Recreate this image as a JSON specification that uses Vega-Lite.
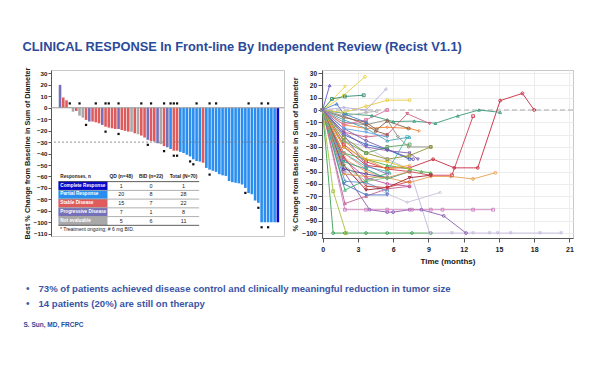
{
"$schema": "https://vega.github.io/schema/vega-lite/v6.json",
"padding": {"left": 22, "top": 40, "right": 5, "bottom": 5},
"background": "white",
"title": {"text": "CLINICAL RESPONSE In Front-line By Independent Review (Recist V1.1)", "anchor": "start", "frame": "bounds", "fontSize": 12.8, "fontWeight": "bold", "color": "#2c4a9a", "offset": 13, "font": "Liberation Sans"},
"config": {
  "font": "Liberation Sans",
  "view": {"stroke": "#c8c8c8"},
  "axis": {"labelFontWeight": "bold", "labelColor": "#1a1a1a", "titleColor": "#1a1a1a", "titleFontWeight": "bold", "domainColor": "#555", "tickColor": "#555", "labelFont": "Liberation Sans", "titleFont": "Liberation Sans", "labelOverlap": false, "tickCount": 40, "format": "d"},
  "text": {"font": "Liberation Sans"}
},
"resolve": {"scale": {"color": "independent", "shape": "independent", "x": "independent", "y": "independent"}},
"spacing": 15,
"vconcat": [
{
 "spacing": 6,
 "resolve": {"scale": {"color": "independent", "shape": "independent"}},
 "hconcat": [
 {
  "width": 233, "height": 166,
  "resolve": {"scale": {"y": "independent"}},
  "layer": [
   {
    "data": {"values": [
{"i":0,"v":20,"r":"PD","t":0,"s":0},
{"i":1,"v":9,"r":"SD","t":0,"s":0},
{"i":2,"v":6.5,"r":"SD","t":0,"s":0},
{"i":3,"v":0.5,"r":"SD","t":1,"s":0},
{"i":4,"v":-3.4,"r":"NE","t":0,"s":0},
{"i":5,"v":-2.8,"r":"SD","t":0,"s":0},
{"i":6,"v":-6.9,"r":"NE","t":1,"s":0},
{"i":7,"v":-8.6,"r":"NE","t":0,"s":0},
{"i":8,"v":-10.6,"r":"SD","t":0,"s":1},
{"i":9,"v":-12,"r":"PD","t":0,"s":0},
{"i":10,"v":-12,"r":"SD","t":0,"s":0},
{"i":11,"v":-12.7,"r":"SD","t":1,"s":0},
{"i":12,"v":-13.6,"r":"SD","t":0,"s":0},
{"i":13,"v":-15,"r":"PD","t":0,"s":0},
{"i":14,"v":-16.5,"r":"SD","t":1,"s":1},
{"i":15,"v":-17.3,"r":"SD","t":1,"s":0},
{"i":16,"v":-17.9,"r":"SD","t":0,"s":0},
{"i":17,"v":-18.5,"r":"SD","t":0,"s":0},
{"i":18,"v":-18.5,"r":"PD","t":1,"s":1},
{"i":19,"v":-19.4,"r":"SD","t":0,"s":0},
{"i":20,"v":-20.2,"r":"SD","t":0,"s":0},
{"i":21,"v":-20.8,"r":"SD","t":0,"s":0},
{"i":22,"v":-21,"r":"NE","t":0,"s":0},
{"i":23,"v":-22.3,"r":"SD","t":0,"s":0},
{"i":24,"v":-23.1,"r":"NE","t":0,"s":0},
{"i":25,"v":-24.3,"r":"SD","t":1,"s":0},
{"i":26,"v":-26,"r":"SD","t":0,"s":0},
{"i":27,"v":-28,"r":"PD","t":0,"s":1},
{"i":28,"v":-29,"r":"SD","t":1,"s":0},
{"i":29,"v":-29.5,"r":"SD","t":0,"s":0},
{"i":30,"v":-31,"r":"PD","t":0,"s":0},
{"i":31,"v":-31.8,"r":"NE","t":0,"s":0},
{"i":32,"v":-33.5,"r":"SD","t":1,"s":1},
{"i":33,"v":-34.5,"r":"PD","t":0,"s":0},
{"i":34,"v":-36,"r":"PR","t":1,"s":0},
{"i":35,"v":-37.5,"r":"SD","t":1,"s":1},
{"i":36,"v":-37.5,"r":"SD","t":1,"s":1},
{"i":37,"v":-38.5,"r":"PR","t":0,"s":0},
{"i":38,"v":-39.5,"r":"PR","t":0,"s":0},
{"i":39,"v":-41,"r":"PR","t":0,"s":0},
{"i":40,"v":-42.5,"r":"PR","t":0,"s":1},
{"i":41,"v":-45,"r":"PR","t":0,"s":1},
{"i":42,"v":-46.5,"r":"PR","t":1,"s":0},
{"i":43,"v":-47,"r":"PR","t":0,"s":0},
{"i":44,"v":-48,"r":"SD","t":0,"s":0},
{"i":45,"v":-52.5,"r":"PR","t":0,"s":0},
{"i":46,"v":-54,"r":"PR","t":1,"s":1},
{"i":47,"v":-55,"r":"PR","t":0,"s":0},
{"i":48,"v":-56,"r":"PR","t":1,"s":0},
{"i":49,"v":-58,"r":"PR","t":0,"s":0},
{"i":50,"v":-59,"r":"PR","t":0,"s":0},
{"i":51,"v":-59.5,"r":"PR","t":0,"s":0},
{"i":52,"v":-64,"r":"PR","t":0,"s":0},
{"i":53,"v":-65,"r":"PR","t":0,"s":0},
{"i":54,"v":-65.5,"r":"PR","t":0,"s":0},
{"i":55,"v":-66,"r":"PR","t":0,"s":0},
{"i":56,"v":-67,"r":"PR","t":0,"s":0},
{"i":57,"v":-70,"r":"PR","t":0,"s":1},
{"i":58,"v":-74.5,"r":"PR","t":1,"s":0},
{"i":59,"v":-75.5,"r":"PR","t":0,"s":0},
{"i":60,"v":-81,"r":"PR","t":0,"s":0},
{"i":61,"v":-83,"r":"PR","t":0,"s":1},
{"i":62,"v":-100,"r":"PR","t":1,"s":1},
{"i":63,"v":-100,"r":"PR","t":0,"s":0},
{"i":64,"v":-100,"r":"PR","t":1,"s":1},
{"i":65,"v":-100,"r":"PR","t":0,"s":0},
{"i":66,"v":-100,"r":"PR","t":0,"s":0},
{"i":67,"v":-100,"r":"CR","t":0,"s":0}
    ]},
    "layer": [
     {"mark": {"type": "bar", "size": 2.6, "orient": "vertical"},
      "encoding": {
       "x": {"field": "i", "type": "quantitative", "scale": {"domain": [-1.24, 67.35], "nice": false, "zero": false}, "axis": null},
       "y": {"field": "v", "type": "quantitative", "scale": {"domain": [-112, 33], "nice": false}, "axis": {"values": [30,20,10,0,-10,-20,-30,-40,-50,-60,-70,-80,-90,-100,-110], "tickCount": 40, "format": "d", "labelOverlap": false, "labelFlush": false, "title": "Best % Change from Baseline in Sum of Diameter", "grid": false, "labelFontSize": 6.2, "titleFontSize": 7.3, "tickSize": 3, "labelPadding": 1, "titlePadding": 2}},
       "color": {"field": "r", "type": "nominal", "scale": {"domain": ["CR","PR","SD","PD","NE"], "range": ["#0808c8","#2a8df0","#e05c5c","#7670b8","#a9a9a9"]}, "legend": null}
      }},
     {"data": {"values": [{}]}, "mark": {"type": "rule", "color": "#999", "strokeWidth": 1}, "encoding": {"y": {"datum": 0, "type": "quantitative"}}},
     {"data": {"values": [{}]}, "mark": {"type": "rule", "color": "#777", "strokeDash": [2,2], "strokeWidth": 0.8}, "encoding": {"y": {"datum": -30, "type": "quantitative"}}},
     {"transform": [{"filter": "datum.t == 1"}], "mark": {"type": "point", "shape": "square", "filled": true, "size": 5, "color": "#111", "opacity": 1}, "encoding": {"x": {"field": "i", "type": "quantitative"}, "y": {"datum": 3.8, "type": "quantitative"}}},
     {"transform": [{"filter": "datum.s == 1"}], "mark": {"type": "point", "shape": "square", "filled": true, "size": 5, "color": "#111", "opacity": 1, "yOffset": 5}, "encoding": {"x": {"field": "i", "type": "quantitative"}, "y": {"field": "v", "type": "quantitative"}}}
    ]
   },
   {
    "data": {"values": [
{"k":0,"lab":"Responses, n","qd":"QD (n=48)","bid":"BID (n=22)","tot":"Total (N=70)"},
{"k":1,"r":"CR","lab":"Complete Response","qd":"1","bid":"0","tot":"1"},
{"k":2,"r":"PR","lab":"Partial Response","qd":"20","bid":"8","tot":"28"},
{"k":3,"r":"SD","lab":"Stable Disease","qd":"15","bid":"7","tot":"22"},
{"k":4,"r":"PD","lab":"Progressive Disease","qd":"7","bid":"1","tot":"8"},
{"k":5,"r":"NE","lab":"Not evaluable","qd":"5","bid":"6","tot":"11"},
{"k":6,"lab":"* Treatment ongoing; # 6 mg BID."}
    ]},
    "layer": [
     {"transform": [{"filter": "datum.k >= 1 && datum.k <= 5"}],
      "mark": {"type": "bar", "orient": "horizontal", "size": 8.4},
      "encoding": {
       "y": {"field": "k", "type": "quantitative", "scale": {"domain": [-11.67, 6.18], "reverse": true, "nice": false, "zero": false}, "axis": null},
       "x": {"datum": -0.5, "type": "quantitative"}, "x2": {"datum": 14.6},
       "color": {"field": "r", "type": "nominal", "legend": null}}},
     {"transform": [{"filter": "datum.k <= 5"}],
      "mark": {"type": "rule", "strokeWidth": 0.8, "yOffset": 4.65},
      "encoding": {"y": {"field": "k", "type": "quantitative"}, "x": {"datum": -0.5, "type": "quantitative"}, "x2": {"datum": 42.8},
       "color": {"condition": {"test": "datum.k == 0 || datum.k == 5", "value": "#333"}, "value": "#9a9a9a"}}},
     {"transform": [{"filter": "datum.k <= 5"}],
      "mark": {"type": "text", "align": "left", "fontSize": 4.7, "fontWeight": "bold"},
      "encoding": {"y": {"field": "k", "type": "quantitative"}, "x": {"datum": 0.1, "type": "quantitative"}, "text": {"field": "lab"},
       "color": {"condition": {"test": "datum.k >= 1", "value": "white"}, "value": "#222"}}},
     {"transform": [{"filter": "datum.k == 0"}],
      "mark": {"type": "text", "align": "center", "fontSize": 4.9, "fontWeight": "bold", "color": "#222"},
      "encoding": {"y": {"field": "k", "type": "quantitative"}, "x": {"datum": 18.8, "type": "quantitative"}, "text": {"field": "qd"}}},
     {"transform": [{"filter": "datum.k == 0"}],
      "mark": {"type": "text", "align": "center", "fontSize": 4.9, "fontWeight": "bold", "color": "#222"},
      "encoding": {"y": {"field": "k", "type": "quantitative"}, "x": {"datum": 28.0, "type": "quantitative"}, "text": {"field": "bid"}}},
     {"transform": [{"filter": "datum.k == 0"}],
      "mark": {"type": "text", "align": "center", "fontSize": 4.9, "fontWeight": "bold", "color": "#222"},
      "encoding": {"y": {"field": "k", "type": "quantitative"}, "x": {"datum": 38.0, "type": "quantitative"}, "text": {"field": "tot"}}},
     {"transform": [{"filter": "datum.k >= 1 && datum.k <= 5"}],
      "mark": {"type": "text", "align": "center", "fontSize": 5.4, "color": "#222"},
      "encoding": {"y": {"field": "k", "type": "quantitative"}, "x": {"datum": 18.8, "type": "quantitative"}, "text": {"field": "qd"}}},
     {"transform": [{"filter": "datum.k >= 1 && datum.k <= 5"}],
      "mark": {"type": "text", "align": "center", "fontSize": 5.4, "color": "#222"},
      "encoding": {"y": {"field": "k", "type": "quantitative"}, "x": {"datum": 28.0, "type": "quantitative"}, "text": {"field": "bid"}}},
     {"transform": [{"filter": "datum.k >= 1 && datum.k <= 5"}],
      "mark": {"type": "text", "align": "center", "fontSize": 5.4, "color": "#222"},
      "encoding": {"y": {"field": "k", "type": "quantitative"}, "x": {"datum": 38.0, "type": "quantitative"}, "text": {"field": "tot"}}},
     {"transform": [{"filter": "datum.k == 6"}],
      "mark": {"type": "text", "align": "left", "fontSize": 5, "color": "#222"},
      "encoding": {"y": {"field": "k", "type": "quantitative"}, "x": {"datum": 0, "type": "quantitative"}, "text": {"field": "lab"}}}
    ]
   }
  ]
 },
 {
  "width": 251, "height": 168,
  "layer": [
   {"data": {"values": [{}]}, "mark": {"type": "rule", "color": "#aaa", "strokeDash": [5,3], "strokeWidth": 1.2}, "encoding": {"y": {"datum": 0, "type": "quantitative"}}},
   {"data": {"name": "sp"}, "mark": {"type": "line", "strokeWidth": 0.9},
    "encoding": {
     "x": {"field": "t", "type": "quantitative", "scale": {"domain": [-0.05, 21.3], "nice": false, "zero": false}, "axis": {"values": [0,3,6,9,12,15,18,21], "tickCount": 40, "format": "d", "labelOverlap": false, "labelFlush": false, "title": "Time (months)", "grid": true, "gridColor": "#ececec", "labelFontSize": 7, "titleFontSize": 8, "tickSize": 4, "labelPadding": 3, "titlePadding": 5}},
     "y": {"field": "v", "type": "quantitative", "scale": {"domain": [-104, 32.5], "nice": false}, "axis": {"values": [30,20,10,0,-10,-20,-30,-40,-50,-60,-70,-80,-90,-100], "tickCount": 40, "format": "d", "labelOverlap": false, "labelFlush": false, "title": "% Change from Baseline in Sum of Diameter", "grid": true, "gridColor": "#ececec", "labelFontSize": 6.5, "titleFontSize": 7.3, "tickSize": 4, "labelPadding": 1.5, "titlePadding": 2}},
     "color": {"field": "p", "type": "nominal", "legend": null, "scale": {"range": ["#c8283c","#d23c50","#3a9a78","#8c8c80","#e6d23a","#eed44a","#e8cc40","#2f8a70","#6a5acd","#b8a8d8","#3aa050","#c4b8dc","#8a5ab0","#d080c0","#c06090","#c8c0d8","#e8a050","#4a70c0","#5a90c8","#a8c040","#40b070","#f08030","#806040","#d06080","#7a60b0","#40c0b0","#50b050","#e0c020","#c050a0","#a02030","#3060c0","#909030","#50a0c0","#f0a030","#5040a0","#60a0e0","#f08080","#60a060","#906050","#d04040","#9070c0","#30a090","#b0b0b0","#e070a0","#4080d0","#e09050","#80c080","#8060b0"]}}
    }},
   {"data": {"name": "sp"}, "mark": {"type": "point", "filled": false, "size": 8, "strokeWidth": 0.9, "opacity": 1},
    "encoding": {
     "x": {"field": "t", "type": "quantitative"},
     "y": {"field": "v", "type": "quantitative"},
     "color": {"field": "p", "type": "nominal", "legend": null},
     "shape": {"field": "p", "type": "nominal", "legend": null, "scale": {"range": ["circle","square","triangle-up","diamond","circle","triangle-down"]}}
    }}
  ]
 }
 ]
},
{
 "width": 420, "height": 45,
 "view": {"stroke": null},
 "data": {"values": [
  {"line": 1, "txt": "73% of patients achieved disease control and clinically meaningful reduction in tumor size"},
  {"line": 2, "txt": "14 patients (20%) are still on therapy"}
 ]},
 "encoding": {
  "y": {"field": "line", "type": "ordinal", "scale": {"domain": [1,2,3]}, "axis": null},
  "x": {"datum": 0, "type": "quantitative", "scale": {"domain": [0, 1]}, "axis": null}
 },
 "layer": [
  {"mark": {"type": "text", "text": "•", "fontSize": 10, "color": "#3a55a5", "dx": -25, "align": "left"}},
  {"mark": {"type": "text", "align": "left", "dx": -12.5, "fontSize": 9.6, "fontWeight": "bold", "color": "#3a55a5"}, "encoding": {"text": {"field": "txt"}}},
  {"data": {"values": [{"line": 3, "txt": "S. Sun, MD, FRCPC"}]}, "mark": {"type": "text", "align": "left", "dx": -27.5, "dy": 6, "fontSize": 6.5, "fontWeight": "bold", "color": "#2c4a9a"}, "encoding": {"text": {"field": "txt"}}}
 ]
}
],
"datasets": {
"sp": [
{"p":"a01","t":0,"v":0},{"p":"a01","t":1.8,"v":-30},{"p":"a01","t":3.7,"v":-45},{"p":"a01","t":5.5,"v":-47},{"p":"a01","t":7.4,"v":-47},{"p":"a01","t":9.4,"v":-40},{"p":"a01","t":11.2,"v":-47},{"p":"a01","t":13.2,"v":-47},{"p":"a01","t":15.1,"v":7.6},{"p":"a01","t":17,"v":13.5},{"p":"a01","t":18,"v":0},
{"p":"a02","t":0,"v":0},{"p":"a02","t":1.8,"v":-28},{"p":"a02","t":3.7,"v":-42},{"p":"a02","t":5.5,"v":-48},{"p":"a02","t":7.4,"v":-50},{"p":"a02","t":9.2,"v":-53},{"p":"a02","t":11,"v":-53},{"p":"a02","t":12.8,"v":-5},
{"p":"a03","t":0,"v":0},{"p":"a03","t":2,"v":-3},{"p":"a03","t":4.2,"v":-4.6},{"p":"a03","t":6,"v":-9.4},{"p":"a03","t":7.8,"v":-9},{"p":"a03","t":9.6,"v":-10.8},{"p":"a03","t":11.5,"v":-4.8},{"p":"a03","t":13.3,"v":0},{"p":"a03","t":15.1,"v":-1.9},
{"p":"a04","t":0,"v":0},{"p":"a04","t":1.8,"v":-10},{"p":"a04","t":3.7,"v":-12},{"p":"a04","t":5.5,"v":-8},{"p":"a04","t":6.4,"v":-21.6},{"p":"a04","t":7.3,"v":-30},{"p":"a04","t":9.2,"v":-30},
{"p":"a05","t":0,"v":0},{"p":"a05","t":1.8,"v":12},{"p":"a05","t":3.6,"v":27},
{"p":"a06","t":0,"v":0},{"p":"a06","t":1.9,"v":19},
{"p":"a07","t":0,"v":0},{"p":"a07","t":1.8,"v":-2},{"p":"a07","t":3.7,"v":3},{"p":"a07","t":5.5,"v":8},{"p":"a07","t":7.4,"v":8},
{"p":"a08","t":0,"v":0},{"p":"a08","t":0.8,"v":9},{"p":"a08","t":1.9,"v":11},{"p":"a08","t":3.5,"v":12},
{"p":"a09","t":0,"v":0},{"p":"a09","t":0.6,"v":20},
{"p":"a10","t":0,"v":0},{"p":"a10","t":1.8,"v":2},{"p":"a10","t":3.7,"v":0},{"p":"a10","t":5.4,"v":17},
{"p":"a11","t":0,"v":0},{"p":"a11","t":0.9,"v":-100},{"p":"a11","t":1.9,"v":-100},{"p":"a11","t":3.7,"v":-100},{"p":"a11","t":5.5,"v":-100},{"p":"a11","t":7.6,"v":-100},{"p":"a11","t":9.2,"v":-100},
{"p":"a12","t":0,"v":0},{"p":"a12","t":1.8,"v":-25},{"p":"a12","t":3.7,"v":-30},{"p":"a12","t":5.5,"v":-40},{"p":"a12","t":7.4,"v":-48},{"p":"a12","t":9.1,"v":-100},{"p":"a12","t":11,"v":-100},{"p":"a12","t":12.8,"v":-100},{"p":"a12","t":14.2,"v":-100},{"p":"a12","t":14.9,"v":-100},{"p":"a12","t":16,"v":-100},{"p":"a12","t":18.5,"v":-100},{"p":"a12","t":20.3,"v":-100},
{"p":"a13","t":0,"v":0},{"p":"a13","t":1.8,"v":-50},{"p":"a13","t":4,"v":-81},{"p":"a13","t":5.5,"v":-83},{"p":"a13","t":6,"v":-83},{"p":"a13","t":7.4,"v":-81},{"p":"a13","t":8.4,"v":-81},{"p":"a13","t":10.3,"v":-86},{"p":"a13","t":12.2,"v":-100},
{"p":"a14","t":0,"v":0},{"p":"a14","t":1.9,"v":-81},{"p":"a14","t":3.7,"v":-81},{"p":"a14","t":5.5,"v":-81},{"p":"a14","t":7.6,"v":-81},{"p":"a14","t":9.2,"v":-81},{"p":"a14","t":10.2,"v":-81},{"p":"a14","t":12.8,"v":-81},{"p":"a14","t":14.5,"v":-81},
{"p":"a15","t":0,"v":0},{"p":"a15","t":1.9,"v":-76},{"p":"a15","t":3.7,"v":-70},{"p":"a15","t":5.5,"v":-64},{"p":"a15","t":7.4,"v":-62},
{"p":"a16","t":0,"v":0},{"p":"a16","t":1.9,"v":-50},{"p":"a16","t":3.7,"v":-60},{"p":"a16","t":5.5,"v":-68},{"p":"a16","t":7.2,"v":-75},{"p":"a16","t":10,"v":-67},
{"p":"a17","t":0,"v":0},{"p":"a17","t":1.9,"v":-40},{"p":"a17","t":3.7,"v":-50},{"p":"a17","t":5.5,"v":-55},{"p":"a17","t":7.4,"v":-59},{"p":"a17","t":9.2,"v":-54},{"p":"a17","t":10.9,"v":-54},{"p":"a17","t":12.8,"v":-56},{"p":"a17","t":14.7,"v":-51},
{"p":"a18","t":0,"v":0},{"p":"a18","t":1.8,"v":-60},{"p":"a18","t":3.7,"v":-69},{"p":"a18","t":5.5,"v":-69},
{"p":"a19","t":0,"v":0},{"p":"a19","t":1.9,"v":-58},{"p":"a19","t":3.7,"v":-59},{"p":"a19","t":5.5,"v":-66},
{"p":"a20","t":0,"v":0},{"p":"a20","t":0.9,"v":-66},{"p":"a20","t":2,"v":-100},
{"p":"a21","t":0,"v":0},{"p":"a21","t":1.9,"v":-65},{"p":"a21","t":3.7,"v":-57},{"p":"a21","t":5.7,"v":-51},
{"p":"a22","t":0,"v":0},{"p":"a22","t":1.8,"v":-12},{"p":"a22","t":3.7,"v":-15},{"p":"a22","t":5.5,"v":-14},{"p":"a22","t":7.4,"v":-15},{"p":"a22","t":8.2,"v":-17},
{"p":"a23","t":0,"v":0},{"p":"a23","t":1.8,"v":-6},{"p":"a23","t":3.7,"v":-10},{"p":"a23","t":4.6,"v":-16},{"p":"a23","t":5.5,"v":-9},{"p":"a23","t":7.3,"v":-15},
{"p":"a24","t":0,"v":0},{"p":"a24","t":1.8,"v":-18},{"p":"a24","t":3.7,"v":-22},{"p":"a24","t":5.5,"v":-20},{"p":"a24","t":7.2,"v":-3},{"p":"a24","t":9.1,"v":-11},
{"p":"a25","t":0,"v":0},{"p":"a25","t":1.8,"v":-15},{"p":"a25","t":3.7,"v":-25},{"p":"a25","t":5.5,"v":-32},{"p":"a25","t":7.7,"v":-40},
{"p":"a26","t":0,"v":0},{"p":"a26","t":1.8,"v":-35},{"p":"a26","t":3.7,"v":-46},{"p":"a26","t":5.5,"v":-50},{"p":"a26","t":7.2,"v":-22},
{"p":"a27","t":0,"v":0},{"p":"a27","t":1.8,"v":-35},{"p":"a27","t":3.7,"v":-40},{"p":"a27","t":5.5,"v":-45},{"p":"a27","t":7.4,"v":-48},{"p":"a27","t":8.4,"v":-50},{"p":"a27","t":9.2,"v":-51},
{"p":"a28","t":0,"v":0},{"p":"a28","t":1.8,"v":-30},{"p":"a28","t":3.7,"v":-40},{"p":"a28","t":5.5,"v":-42},{"p":"a28","t":7.4,"v":-48},
{"p":"a29","t":0,"v":0},{"p":"a29","t":1.8,"v":-40},{"p":"a29","t":3.7,"v":-55},{"p":"a29","t":5.5,"v":-60},{"p":"a29","t":7.4,"v":-62},
{"p":"a30","t":0,"v":0},{"p":"a30","t":1.8,"v":-45},{"p":"a30","t":3.7,"v":-65},{"p":"a30","t":5.5,"v":-63},{"p":"a30","t":7.4,"v":-55},{"p":"a30","t":9.2,"v":-53},
{"p":"a31","t":0,"v":0},{"p":"a31","t":1.8,"v":-20},{"p":"a31","t":3.7,"v":-28},{"p":"a31","t":5.5,"v":-32},{"p":"a31","t":7.4,"v":-40},
{"p":"a32","t":0,"v":0},{"p":"a32","t":1.8,"v":-22},{"p":"a32","t":3.7,"v":-35},{"p":"a32","t":5.5,"v":-40},{"p":"a32","t":7.4,"v":-37},{"p":"a32","t":9.2,"v":-30},
{"p":"a33","t":0,"v":0},{"p":"a33","t":1.8,"v":-8},{"p":"a33","t":3.7,"v":-15},{"p":"a33","t":5.5,"v":-25},{"p":"a33","t":7.4,"v":-22},
{"p":"a34","t":0,"v":0},{"p":"a34","t":1.8,"v":-25},{"p":"a34","t":3.7,"v":-40},{"p":"a34","t":5.5,"v":-48},{"p":"a34","t":7.4,"v":-45},
{"p":"a35","t":0,"v":0},{"p":"a35","t":1.8,"v":-48},{"p":"a35","t":3.7,"v":-52},{"p":"a35","t":5.5,"v":-55},
{"p":"a36","t":0,"v":0},{"p":"a36","t":1.8,"v":-15},{"p":"a36","t":3.7,"v":-18},{"p":"a36","t":5.5,"v":-22},
{"p":"a37","t":0,"v":0},{"p":"a37","t":1.8,"v":-35},{"p":"a37","t":3.7,"v":-48},
{"p":"a38","t":0,"v":0},{"p":"a38","t":1.8,"v":-25},{"p":"a38","t":3.7,"v":-35},{"p":"a38","t":5.5,"v":-30},{"p":"a38","t":7.4,"v":-28},
{"p":"a39","t":0,"v":0},{"p":"a39","t":1.8,"v":-5},{"p":"a39","t":3.7,"v":-12},{"p":"a39","t":4.5,"v":-17},{"p":"a39","t":5.5,"v":-20},
{"p":"a40","t":0,"v":0},{"p":"a40","t":1.8,"v":-38},{"p":"a40","t":3.7,"v":-62},{"p":"a40","t":5.5,"v":-63},{"p":"a40","t":7.4,"v":-58},
{"p":"a41","t":0,"v":0},{"p":"a41","t":1.8,"v":-20},{"p":"a41","t":3.7,"v":-45},{"p":"a41","t":5.5,"v":-52},
{"p":"a42","t":0,"v":0},{"p":"a42","t":1.8,"v":-42},{"p":"a42","t":3.7,"v":-48},{"p":"a42","t":5.5,"v":-56},{"p":"a42","t":7.4,"v":-50},
{"p":"a43","t":0,"v":0},{"p":"a43","t":1.8,"v":-5},{"p":"a43","t":3.7,"v":-2},{"p":"a43","t":4.6,"v":-1},
{"p":"a44","t":0,"v":0},{"p":"a44","t":1.8,"v":-12},{"p":"a44","t":3.7,"v":-8},{"p":"a44","t":5.5,"v":0},
{"p":"a45","t":0,"v":0},{"p":"a45","t":1.2,"v":5},{"p":"a45","t":1.8,"v":-3},{"p":"a45","t":3.7,"v":-10},
{"p":"a46","t":0,"v":0},{"p":"a46","t":1.8,"v":-52},{"p":"a46","t":3.7,"v":-54},{"p":"a46","t":5.5,"v":-55},{"p":"a46","t":7.4,"v":-50},
{"p":"a47","t":0,"v":0},{"p":"a47","t":1.8,"v":-45},{"p":"a47","t":3.7,"v":-58},{"p":"a47","t":5.5,"v":-55},
{"p":"a48","t":0,"v":0},{"p":"a48","t":1.8,"v":-18},{"p":"a48","t":3.7,"v":-30},{"p":"a48","t":5.5,"v":-33},{"p":"a48","t":7.4,"v":-35},{"p":"a48","t":8.1,"v":-40}
]
}
}
